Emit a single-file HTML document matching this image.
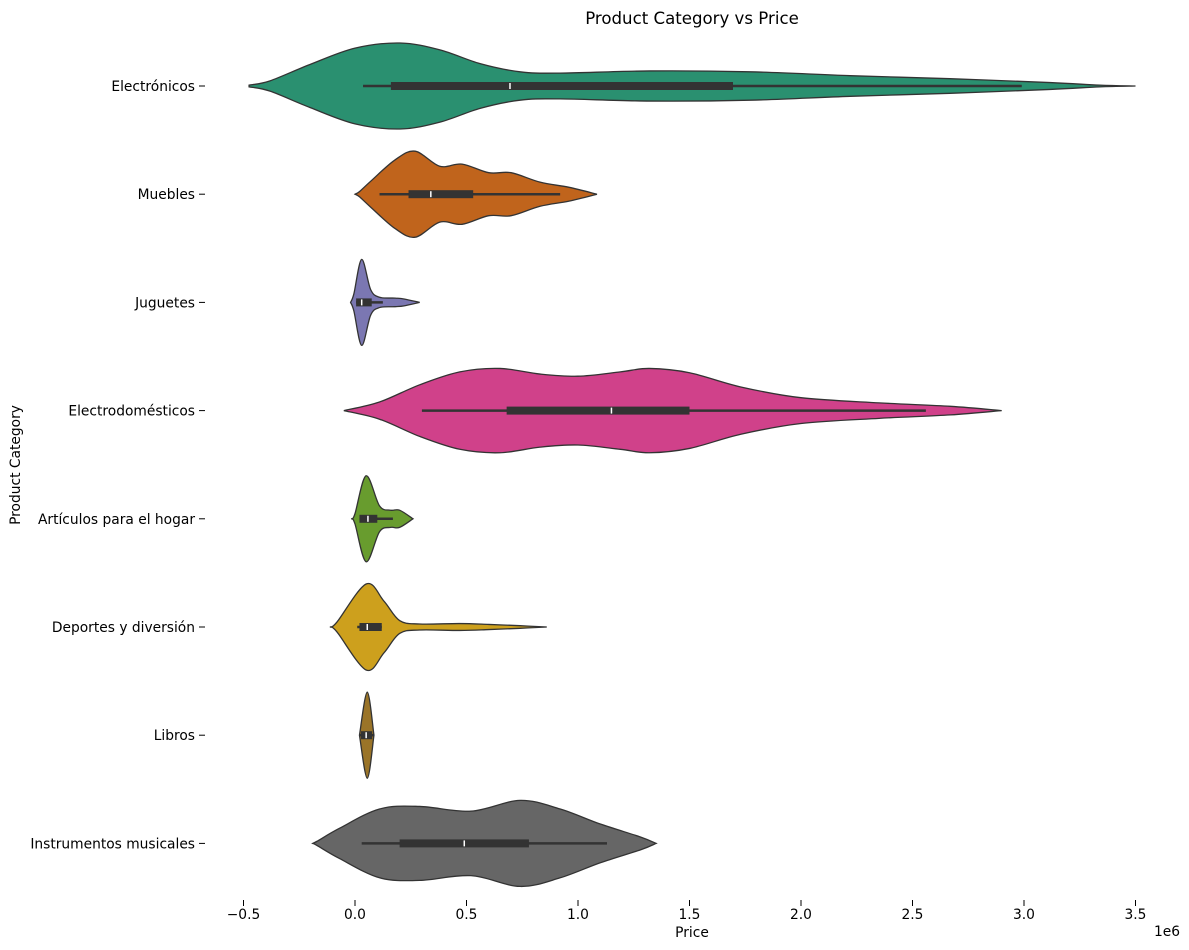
<!DOCTYPE html>
<html><head><meta charset="utf-8"><style>
body{margin:0;background:#fff}
svg{display:block;font-family:"DejaVu Sans","Liberation Sans",sans-serif}
</style></head><body>
<svg id="chart" width="1189" height="950">
<text x="692" y="24" text-anchor="middle" font-size="16.6">Product Category vs Price</text>
<text x="692" y="937" text-anchor="middle" font-size="13.8">Price</text>
<text x="1167" y="936" text-anchor="middle" font-size="13.8">1e6</text>
<text x="20" y="465" text-anchor="middle" font-size="13.8" transform="rotate(-90 20 465)">Product Category</text>
<g id="g"></g>
</svg>
<script>
const categories=["Electrónicos","Muebles","Juguetes","Electrodomésticos","Artículos para el hogar","Deportes y diversión","Libros","Instrumentos musicales"];
const colors=["#2a9070","#c0641c","#7b77b2","#d0418a","#689c2e","#cda01d","#9a7428","#666666"];
const densityPrices=[
[-0.475,-0.381,-0.202,0,0.202,0.381,0.561,0.74,0.919,1.323,1.771,2.22,2.668,3.117,3.34,3.5],
[0,0.02,0.07,0.18,0.27,0.38,0.48,0.6,0.7,0.83,0.96,1.085],
[-0.02,-0.005,0.03,0.07,0.11,0.18,0.22,0.29],
[-0.05,0.11,0.29,0.47,0.65,0.83,1.0,1.19,1.32,1.5,1.73,2.0,2.35,2.67,2.9],
[-0.015,0.0,0.05,0.11,0.16,0.2,0.26],
[-0.11,-0.08,0.05,0.13,0.2,0.29,0.47,0.6,0.74,0.86],
[0.02,0.055,0.085],
[-0.19,-0.17,-0.07,0.11,0.29,0.52,0.74,0.92,1.1,1.28,1.35]];
const densityWidths=[
[0.02,0.12,0.5,0.88,1,0.84,0.52,0.33,0.3,0.35,0.33,0.24,0.17,0.08,0.02,0],
[0,0.06,0.3,0.8,1,0.65,0.7,0.5,0.5,0.28,0.16,0],
[0,0.2,1,0.3,0.12,0.1,0.08,0],
[0,0.2,0.6,0.9,0.98,0.85,0.8,0.9,0.98,0.88,0.55,0.3,0.18,0.1,0],
[0,0.12,1,0.3,0.2,0.2,0],
[0,0.12,1,0.6,0.15,0.07,0.08,0.06,0.03,0],
[0,1,0],
[0,0.05,0.35,0.8,0.86,0.75,1,0.8,0.45,0.15,0]];
const whiskerLow=[0.036,0.11,0.005,0.3,0.02,0.01,0.02,0.03];
const q1=[0.161,0.24,0.005,0.68,0.02,0.02,0.027,0.2];
const medians=[0.695,0.34,0.03,1.15,0.058,0.055,0.05,0.49];
const q3=[1.695,0.53,0.075,1.5,0.1,0.12,0.077,0.78];
const whiskerHigh=[2.99,0.92,0.125,2.56,0.17,0.12,0.085,1.13];
const xTicks=[-0.5,0,0.5,1.0,1.5,2.0,2.5,3.0,3.5];
const xTickLabels=["−0.5","0.0","0.5","1.0","1.5","2.0","2.5","3.0","3.5"];

const NS="http://www.w3.org/2000/svg";
const g=document.getElementById('g');
const X=v=>355+v*223;
const Y=i=>86+i*108.2;
const HW=43;
function mk(t,a){const e=document.createElementNS(NS,t);for(const k in a)e.setAttribute(k,a[k]);g.appendChild(e);return e;}
function spline(pts){
 let d=`M${pts[0][0]},${pts[0][1]}`;
 for(let i=0;i<pts.length-1;i++){
  const p0=pts[Math.max(i-1,0)],p1=pts[i],p2=pts[i+1],p3=pts[Math.min(i+2,pts.length-1)];
  const c1=[p1[0]+(p2[0]-p0[0])/6,p1[1]+(p2[1]-p0[1])/6];
  const c2=[p2[0]-(p3[0]-p1[0])/6,p2[1]-(p3[1]-p1[1])/6];
  d+=` C${c1[0]},${c1[1]} ${c2[0]},${c2[1]} ${p2[0]},${p2[1]}`;
 }
 return d;
}
categories.forEach((c,i)=>{
 const cy=Y(i);
 const up=densityPrices[i].map((p,j)=>[X(p),cy-densityWidths[i][j]*HW]);
 const lo=densityPrices[i].map((p,j)=>[X(p),cy+densityWidths[i][j]*HW]).reverse();
 let d=spline(up)+" L"+lo[0][0]+","+lo[0][1]+spline(lo).replace(/^M[^C]*/,"")+" Z";
 const v=mk('path',{d:d,fill:colors[i],stroke:'#333',"stroke-width":1.3});
 
 
 const w=mk('line',{x1:X(whiskerLow[i]),x2:X(whiskerHigh[i]),y1:cy,y2:cy,stroke:'#333',"stroke-width":2.5});
 
 
 const b=mk('rect',{x:X(q1[i]),y:cy-4,width:Math.max(X(q3[i])-X(q1[i]),1),height:8,fill:'#333'});
 
 
 const m=mk('line',{x1:X(medians[i]),x2:X(medians[i]),y1:cy-3,y2:cy+3,stroke:'#fff',"stroke-width":1.5});
 
 
 const tk=mk('line',{x1:199,x2:205,y1:cy,y2:cy,stroke:'#000',"stroke-width":1});
 
 
 const t=mk('text',{x:195,y:cy+5,"text-anchor":"end","font-size":13.8});
 t.textContent=c;
 
 
});
xTicks.forEach((v,i)=>{
 const tk=mk('line',{x1:X(v),x2:X(v),y1:900,y2:906,stroke:'#000',"stroke-width":1});
 
 
 const t=mk('text',{x:X(v),y:919,"text-anchor":"middle","font-size":13.8});
 t.textContent=xTickLabels[i];
 
 
});
</script>
</body></html>
